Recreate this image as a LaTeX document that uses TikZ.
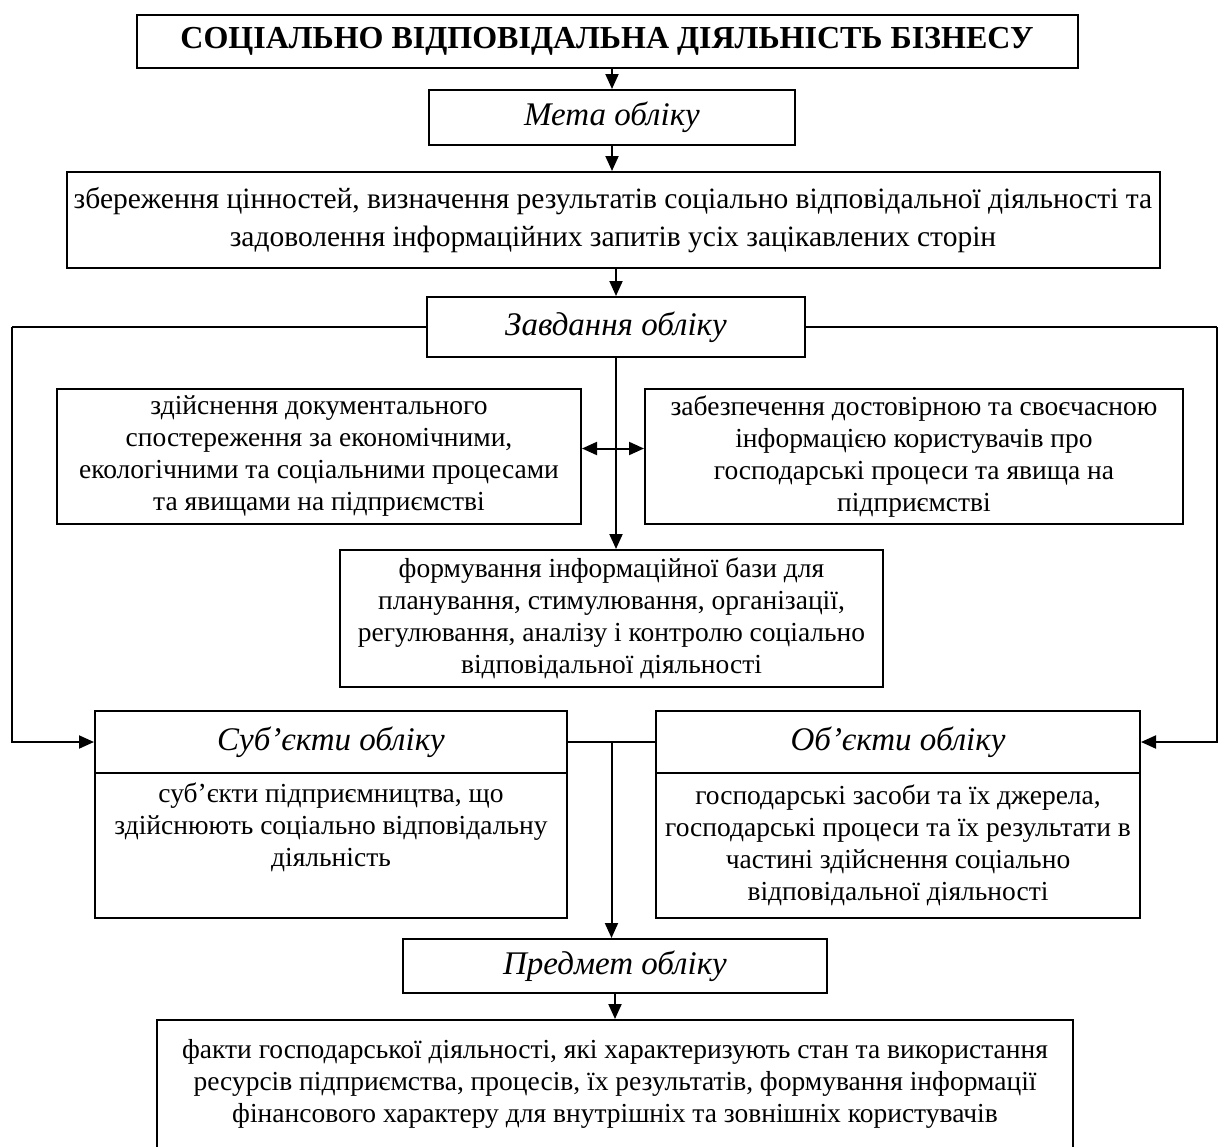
\documentclass[tikz,border=0pt]{standalone}
\usepackage{fontspec}
\setmainfont{Liberation Serif}
\usepackage{tikz}
\usetikzlibrary{arrows.meta,calc}

\newcommand\bodyfont{\fontsize{27.5}{32}\selectfont}
\newcommand\goalfont{\fontsize{29.5}{38}\selectfont}
\newcommand\headfont{\fontsize{33}{36}\selectfont\itshape}
\newcommand\titlefont{\fontsize{32}{35}\selectfont\bfseries}

\begin{document}
\begin{tikzpicture}[x=1pt,y=-1pt,
    box/.style={draw,line width=2pt,align=center,inner sep=1pt,font=\bodyfont},
    head/.style={box,font=\headfont},
    arr/.style={line width=2pt,-{Triangle[length=15pt,width=13pt]}},
    arrs/.style={line width=2pt,{Triangle[length=15pt,width=13pt]}-{Triangle[length=15pt,width=13pt]}},
    link/.style={line width=2pt}]
    \useasboundingbox (0,0) rectangle (1220,1146);
    \clip (0,0) rectangle (1220,1146);

    \node[box,font=\titlefont,minimum width=941,minimum height=53] (title) at (607,41.5)
        {СОЦІАЛЬНО ВІДПОВІДАЛЬНА ДІЯЛЬНІСТЬ БІЗНЕСУ};
    \node[head,minimum width=366,minimum height=55] (meta) at (612,117.5) {Мета обліку};
    \node[box,font=\goalfont,minimum width=1093,minimum height=96] (goal) at (613,220)
        {збереження цінностей, визначення результатів соціально відповідальної діяльності та\\
         задоволення інформаційних запитів усіх зацікавлених сторін};
    \node[head,minimum width=378,minimum height=60] (tasks) at (616,327) {Завдання обліку};

    \node[box,minimum width=524,minimum height=135] (taskl) at (319,456.5)
        {здійснення документального\\спостереження за економічними,\\
         екологічними та соціальними процесами\\та явищами на підприємстві};
    \node[box,minimum width=538,minimum height=135] (taskr) at (914,456.5)
        {забезпечення достовірною та своєчасною\\інформацією користувачів про\\
         господарські процеси та явища на\\підприємстві};
    \node[box,minimum width=543,minimum height=137] (form) at (611.5,618.5)
        {формування інформаційної бази для\\планування, стимулювання, організації,\\
         регулювання, аналізу і контролю соціально\\відповідальної діяльності};

    \node[head,minimum width=472,minimum height=62] (subjh) at (331,742) {Суб’єкти обліку};
    \node[box,minimum width=472,minimum height=145] (subjb) at (331,845.5)
        {суб’єкти підприємництва, що\\здійснюють соціально відповідальну\\діяльність\\\strut};
    \node[head,minimum width=484,minimum height=62] (objh) at (898,742) {Об’єкти обліку};
    \node[box,minimum width=484,minimum height=145] (objb) at (898,845.5)
        {господарські засоби та їх джерела,\\господарські процеси та їх результати в\\
         частині здійснення соціально\\відповідальної діяльності};

    \node[head,minimum width=424,minimum height=54] (pred) at (615,966) {Предмет обліку};
    \node[box,minimum width=916,minimum height=128] (facts) at (615,1084)
        {факти господарської діяльності, які характеризують стан та використання\\
         ресурсів підприємства, процесів, їх результатів, формування інформації\\
         фінансового характеру для внутрішніх та зовнішніх користувачів};

    \coordinate (lft) at (12,327);
    \coordinate (rgt) at (1217,327);
    \coordinate (jn) at ($(subjh.east)!0.5!(objh.west)$);

    \draw[arr] (title.south -| meta.north) -- (meta.north);
    \draw[arr] (meta.south) -- (meta.south |- goal.north);
    \draw[arr] (goal.south -| tasks.north) -- (tasks.north);
    \draw[arr] (tasks.south) -- (tasks.south |- form.north);
    \draw[arrs] ([yshift=8pt]taskl.east) -- ([yshift=8pt]taskr.west);
    \draw[link] (tasks.west) -- (lft);
    \draw[arr] (lft) |- (subjh.west);
    \draw[link] (tasks.east) -- (rgt);
    \draw[arr] (rgt) |- (objh.east);
    \draw[link] (subjh.east) -- (objh.west);
    \draw[arr] (jn) -- (jn |- pred.north);
    \draw[arr] (pred.south) -- (pred.south |- facts.north);
\end{tikzpicture}
\end{document}
